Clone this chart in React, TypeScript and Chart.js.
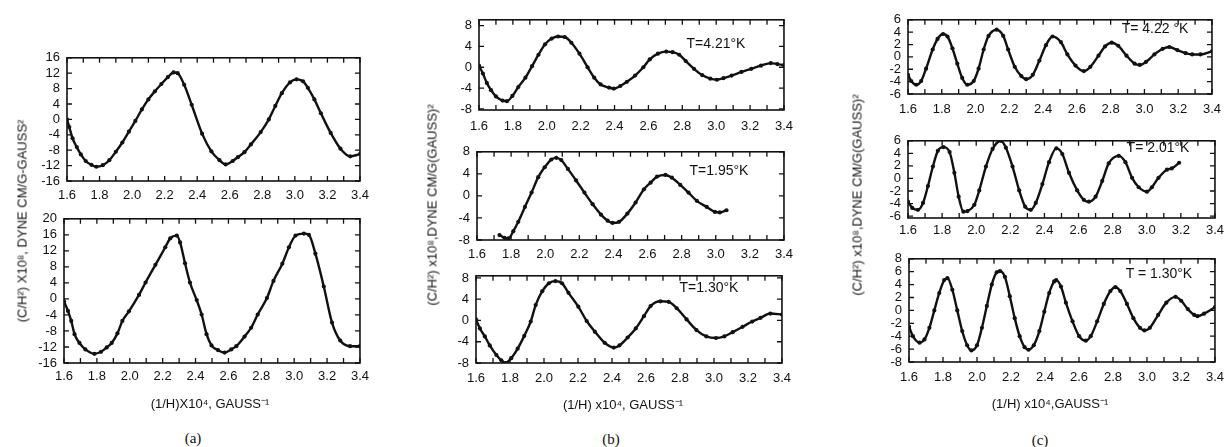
import React, { useEffect, useRef } from 'react';
import { Chart, registerables } from 'chart.js';

Chart.register(...registerables);

// ---------- tick values / labels ----------
const xTickValues = [1.6, 1.7, 1.8, 1.9, 2.0, 2.1, 2.2, 2.3, 2.4, 2.5, 2.6, 2.7, 2.8, 2.9, 3.0, 3.1, 3.2, 3.3, 3.4];
const xTickLabels = ['1.6', '', '1.8', '', '2.0', '', '2.2', '', '2.4', '', '2.6', '', '2.8', '', '3.0', '', '3.2', '', '3.4'];
const yTicksA1 = [16, 12, 8, 4, 0, -4, -8, -12, -16];
const yTicksA2 = [20, 16, 12, 8, 4, 0, -4, -8, -12, -16];
const yTicksB = [8, 4, 0, -4, -8];
const yTicksC6 = [6, 4, 2, 0, -2, -4, -6];
const yTicksC8 = [8, 6, 4, 2, 0, -2, -4, -6, -8];

// ---------- (a) upper ----------
const aTopX = [1.6, 1.614, 1.634, 1.66, 1.685, 1.715, 1.75, 1.78, 1.82, 1.86, 1.9, 1.94, 1.98, 2.02, 2.06, 2.1, 2.14, 2.18, 2.22, 2.255, 2.28, 2.32, 2.366, 2.43, 2.487, 2.537, 2.575, 2.618, 2.65, 2.69, 2.73, 2.79, 2.84, 2.88, 2.92, 2.97, 3.01, 3.05, 3.08, 3.12, 3.16, 3.22, 3.28, 3.34, 3.4];
const aTopY = [0, -2.0, -4.9, -7.2, -9.1, -10.8, -11.8, -12.3, -11.9, -10.6, -8.4, -6.0, -3.2, -0.4, 2.6, 5.2, 7.3, 9.2, 11.0, 12.2, 12.0, 9.0, 3.8, -3.7, -8.3, -10.6, -11.7, -10.8, -9.8, -8.5, -6.5, -3.3, 0, 3.5, 6.8, 9.6, 10.4, 9.9, 8.2, 5.2, 1.6, -3.5, -7.6, -9.6, -9.0];

// ---------- (a) lower ----------
const aBotX = [1.6, 1.624, 1.644, 1.664, 1.694, 1.73, 1.785, 1.825, 1.86, 1.89, 1.925, 1.955, 1.995, 2.056, 2.096, 2.156, 2.216, 2.246, 2.286, 2.306, 2.336, 2.366, 2.407, 2.437, 2.467, 2.497, 2.537, 2.577, 2.617, 2.648, 2.698, 2.738, 2.778, 2.834, 2.874, 2.928, 2.968, 3.008, 3.059, 3.089, 3.129, 3.18, 3.23, 3.28, 3.34, 3.4];
const aBotY = [-0.6, -3.0, -5.5, -8.8, -11.0, -12.6, -13.7, -13.2, -12.1, -11.0, -8.6, -5.5, -3.1, 1.0, 4.1, 8.5, 12.9, 15.1, 15.8, 14.1, 8.9, 4.1, -0.3, -3.9, -8.8, -11.6, -12.8, -13.4, -12.6, -11.8, -9.4, -7.2, -3.9, 0.2, 4.5, 8.8, 12.9, 15.8, 16.3, 16.0, 11.3, 3.1, -5.9, -10.4, -11.8, -11.8];

// ---------- (b) T=4.21 K ----------
const bTopX = [1.6, 1.623, 1.646, 1.671, 1.7, 1.739, 1.765, 1.797, 1.832, 1.874, 1.913, 1.951, 1.99, 2.029, 2.067, 2.106, 2.145, 2.193, 2.241, 2.28, 2.318, 2.367, 2.396, 2.434, 2.473, 2.521, 2.57, 2.608, 2.656, 2.705, 2.743, 2.782, 2.82, 2.869, 2.917, 2.965, 3.004, 3.043, 3.091, 3.149, 3.207, 3.264, 3.322, 3.361, 3.4];
const bTopY = [0.3, -1.2, -3.0, -4.4, -5.6, -6.4, -6.5, -5.5, -3.8, -2.0, 0.2, 2.4, 4.4, 5.5, 5.9, 5.8, 4.7, 2.6, 0, -2.0, -3.3, -3.9, -4.1, -3.6, -2.8, -1.6, 0, 1.5, 2.6, 3.0, 2.9, 2.4, 1.2, -0.3, -1.5, -2.2, -2.4, -2.1, -1.6, -0.9, -0.3, 0.3, 0.8, 0.6, 0.4];

// ---------- (b) T=1.95 K ----------
const bMidX = [1.732, 1.761, 1.784, 1.813, 1.842, 1.881, 1.92, 1.959, 1.997, 2.036, 2.065, 2.094, 2.133, 2.181, 2.23, 2.278, 2.327, 2.366, 2.395, 2.433, 2.482, 2.53, 2.579, 2.618, 2.656, 2.705, 2.743, 2.792, 2.84, 2.889, 2.947, 2.995, 3.024, 3.063];
const bMidY = [-7.1, -7.6, -7.7, -6.4, -4.7, -2.0, 0.6, 3.4, 5.2, 6.6, 6.9, 6.5, 4.9, 2.8, 0.6, -1.5, -3.4, -4.5, -4.9, -4.7, -3.2, -1.2, 1.2, 2.4, 3.5, 3.8, 3.3, 2.0, 0.6, -0.9, -2.0, -2.9, -3.0, -2.6];

// ---------- (b) T=1.30 K ----------
const bBotX = [1.6, 1.623, 1.652, 1.681, 1.72, 1.749, 1.774, 1.807, 1.845, 1.884, 1.922, 1.951, 1.99, 2.029, 2.067, 2.106, 2.144, 2.202, 2.251, 2.299, 2.357, 2.411, 2.444, 2.492, 2.54, 2.588, 2.627, 2.685, 2.733, 2.781, 2.839, 2.897, 2.955, 3.012, 3.061, 3.11, 3.168, 3.225, 3.274, 3.332, 3.4];
const bBotY = [0.2, -1.5, -3.0, -4.7, -6.5, -7.5, -8.0, -7.1, -5.3, -2.9, -0.2, 2.9, 5.5, 7.0, 7.4, 7.0, 5.2, 2.6, -0.1, -2.1, -4.2, -5.1, -4.7, -3.2, -1.5, 0.8, 2.7, 3.6, 3.5, 2.3, 0.2, -1.8, -3.0, -3.3, -3.0, -2.2, -1.2, -0.2, 0.5, 1.3, 1.1];

// ---------- (c) T=4.22 K ----------
const cTopX = [1.6, 1.619, 1.649, 1.678, 1.707, 1.746, 1.775, 1.808, 1.834, 1.863, 1.892, 1.921, 1.951, 1.989, 2.018, 2.048, 2.077, 2.125, 2.164, 2.193, 2.232, 2.271, 2.3, 2.339, 2.378, 2.417, 2.456, 2.505, 2.544, 2.592, 2.641, 2.68, 2.728, 2.767, 2.806, 2.845, 2.894, 2.942, 2.972, 3.01, 3.059, 3.108, 3.147, 3.195, 3.244, 3.283, 3.332, 3.4];
const cTopY = [-2.9, -3.9, -4.5, -3.9, -1.9, 1.2, 2.9, 3.7, 3.3, 1.4, -1.1, -3.4, -4.5, -3.9, -1.9, 1.2, 3.4, 4.4, 3.4, 1.2, -1.6, -3.1, -3.6, -2.9, -0.6, 1.9, 3.3, 2.4, 0.4, -1.4, -2.3, -1.6, 0.2, 1.7, 2.3, 1.8, 0.2, -1.1, -1.3, -0.8, 0.4, 1.3, 1.6, 1.1, 0.6, 0.4, 0.4, 0.9];

// ---------- (c) T=2.01 K ----------
const cMidX = [1.6, 1.625, 1.658, 1.688, 1.717, 1.746, 1.775, 1.808, 1.844, 1.872, 1.897, 1.925, 1.949, 1.989, 2.018, 2.057, 2.096, 2.145, 2.174, 2.213, 2.252, 2.287, 2.32, 2.349, 2.388, 2.427, 2.47, 2.505, 2.544, 2.592, 2.631, 2.661, 2.7, 2.739, 2.777, 2.836, 2.875, 2.914, 2.953, 3.001, 3.03, 3.069, 3.118, 3.147, 3.19];
const cMidY = [-3.7, -4.7, -5.0, -3.9, -1.2, 1.9, 4.4, 5.0, 4.2, 0.9, -2.9, -5.3, -5.2, -4.2, -1.9, 1.9, 4.7, 6.0, 4.9, 1.9, -1.9, -4.5, -5.0, -3.9, -0.9, 2.6, 4.8, 3.9, 0.9, -1.9, -3.4, -3.7, -2.9, -0.4, 2.4, 3.6, 2.6, 0.1, -1.4, -2.1, -1.4, 0.1, 1.4, 1.6, 2.5];

// ---------- (c) T=1.30 K ----------
const cBotX = [1.6, 1.623, 1.662, 1.691, 1.72, 1.749, 1.778, 1.807, 1.826, 1.855, 1.884, 1.913, 1.942, 1.967, 2.0, 2.029, 2.058, 2.087, 2.116, 2.135, 2.164, 2.193, 2.222, 2.251, 2.28, 2.303, 2.334, 2.367, 2.396, 2.425, 2.454, 2.466, 2.494, 2.523, 2.562, 2.601, 2.64, 2.669, 2.707, 2.746, 2.785, 2.814, 2.843, 2.882, 2.92, 2.959, 2.985, 3.017, 3.066, 3.114, 3.168, 3.201, 3.24, 3.278, 3.297, 3.336, 3.4];
const cBotY = [-2.5, -4.0, -5.0, -4.5, -2.7, 0, 2.7, 4.7, 5.0, 3.2, 0, -3.2, -5.4, -6.2, -5.4, -2.7, 0.7, 4.0, 5.9, 6.1, 5.2, 2.2, -1.2, -4.0, -5.7, -6.1, -5.4, -3.2, -0.2, 2.7, 4.5, 4.7, 3.7, 1.2, -1.7, -4.0, -4.7, -4.0, -1.7, 1.0, 3.0, 3.6, 3.0, 1.0, -1.2, -2.7, -3.1, -2.7, -0.7, 1.2, 2.1, 1.5, 0.2, -0.7, -0.9, -0.5, 0.5];

// ---------- layout (frame: left, top, right, bottom in page px) ----------
type Panel = {
  xs: number[]; ys: number[]; frame: [number, number, number, number];
  yMin: number; yMax: number; yTicks: number[]; xPad: number;
};

const panels: Panel[] = [
  { xs: aTopX, ys: aTopY, frame: [67, 53, 364, 181], yMin: -16, yMax: 16, yTicks: yTicksA1, xPad: 7 },
  { xs: aBotX, ys: aBotY, frame: [64, 214, 363, 363], yMin: -16, yMax: 20, yTicks: yTicksA2, xPad: 6 },
  { xs: bTopX, ys: bTopY, frame: [479, 15, 790, 110], yMin: -8.2, yMax: 9.1, yTicks: yTicksB, xPad: 9 },
  { xs: bMidX, ys: bMidY, frame: [477, 147, 788, 240], yMin: -8, yMax: 8, yTicks: yTicksB, xPad: 7 },
  { xs: bBotX, ys: bBotY, frame: [476, 271, 787, 363], yMin: -8, yMax: 8.4, yTicks: yTicksB, xPad: 8 },
  { xs: cTopX, ys: cTopY, frame: [908, 15, 1217, 94], yMin: -6, yMax: 6, yTicks: yTicksC6, xPad: 8 },
  { xs: cMidX, ys: cMidY, frame: [908, 136, 1217, 218], yMin: -6.3, yMax: 6, yTicks: yTicksC6, xPad: 5 },
  { xs: cBotX, ys: cBotY, frame: [909, 254, 1220, 362], yMin: -8, yMax: 8, yTicks: yTicksC8, xPad: 8 },
];

const YW = 44;
const PT = 10;
const PR = 12;
const XH = 30;
const INK = '#111111';
const FONT = "'Liberation Sans', Arial, sans-serif";

const framePlugin = {
  id: 'frameTicks',
  afterDraw(chart: any) {
    const { ctx, chartArea } = chart;
    const { left, right, top, bottom } = chartArea;
    const xs = chart.scales.x;
    const ys = chart.scales.y;
    ctx.save();
    ctx.strokeStyle = INK;
    ctx.lineWidth = 1.6;
    ctx.strokeRect(left, top, right - left, bottom - top);
    ctx.lineWidth = 1.3;
    ctx.beginPath();
    const tl = 5;
    xs.ticks.forEach((t: any) => {
      const px = xs.getPixelForValue(t.value);
      ctx.moveTo(px, bottom);
      ctx.lineTo(px, bottom - tl);
      ctx.moveTo(px, top);
      ctx.lineTo(px, top + tl);
    });
    ys.ticks.forEach((t: any) => {
      const py = ys.getPixelForValue(t.value);
      ctx.moveTo(left, py);
      ctx.lineTo(left + tl, py);
      ctx.moveTo(right, py);
      ctx.lineTo(right - tl, py);
    });
    ctx.stroke();
    ctx.restore();
  },
};

function Plot({ p }: { p: Panel }) {
  const ref = useRef<HTMLCanvasElement>(null);
  const [L, T, R, B] = p.frame;
  const w = R - L + YW + PR;
  const h = B - T + PT + XH;
  useEffect(() => {
    if (!ref.current) return;
    const chart = new Chart(ref.current, {
      type: 'line',
      data: {
        datasets: [
          {
            data: p.xs.map((x, i) => ({ x, y: p.ys[i] })),
            borderColor: INK,
            borderWidth: 2.4,
            pointRadius: 2.1,
            pointBackgroundColor: INK,
            pointBorderWidth: 0,
            cubicInterpolationMode: 'monotone',
            fill: false,
          } as any,
        ],
      },
      options: {
        animation: false,
        responsive: false,
        devicePixelRatio: 1,
        layout: { padding: { top: PT, right: PR, left: 0, bottom: 0 } },
        plugins: { legend: { display: false }, tooltip: { enabled: false } },
        scales: {
          x: {
            type: 'linear',
            min: 1.6,
            max: 3.4,
            grid: { display: false, drawTicks: false },
            border: { display: false },
            afterBuildTicks: (s: any) => {
              s.ticks = xTickValues.map((v) => ({ value: v }));
            },
            afterFit: (s: any) => {
              s.height = XH;
            },
            ticks: {
              autoSkip: false,
              maxRotation: 0,
              minRotation: 0,
              padding: p.xPad,
              color: INK,
              font: { family: FONT, size: 13 },
              callback: (v: any) => {
                const idx = xTickValues.findIndex((t) => Math.abs(t - Number(v)) < 1e-6);
                return idx >= 0 ? xTickLabels[idx] : '';
              },
            },
          },
          y: {
            type: 'linear',
            min: p.yMin,
            max: p.yMax,
            grid: { display: false, drawTicks: false },
            border: { display: false },
            afterBuildTicks: (s: any) => {
              s.ticks = p.yTicks.map((v) => ({ value: v }));
            },
            afterFit: (s: any) => {
              s.width = YW;
            },
            ticks: {
              autoSkip: false,
              padding: 7,
              color: INK,
              font: { family: FONT, size: 13 },
              callback: (v: any) => String(v),
            },
          },
        },
      } as any,
      plugins: [framePlugin],
    });
    return () => chart.destroy();
  }, []);
  return (
    <canvas
      ref={ref}
      width={w}
      height={h}
      style={{ position: 'absolute', left: L - YW, top: T - PT, width: w, height: h }}
    />
  );
}

type Label = { text: string; x: number; y: number; size: number; rotate?: boolean; serif?: boolean };

const labels: Label[] = [
  { text: 'T=4.21°K', x: 716, y: 43, size: 14 },
  { text: 'T=1.95°K', x: 719, y: 170, size: 14 },
  { text: 'T=1.30°K', x: 709, y: 287, size: 14 },
  { text: 'T= 4.22 °K', x: 1155, y: 28, size: 14 },
  { text: 'T= 2.01°K', x: 1158, y: 147, size: 14 },
  { text: 'T = 1.30°K', x: 1159, y: 273, size: 14 },
  { text: '(C/H²) X10⁸, DYNE CM/G-GAUSS²', x: 22, y: 221, size: 13 },
  { text: '(C/H²) x10⁸,DYNE CM/G(GAUSS)²', x: 432, y: 205, size: 13 },
  { text: '(C/H²) x10⁸,DYNE CM/G(GAUSS)²', x: 857, y: 195, size: 13 },
  { text: '(1/H)X10⁴, GAUSS⁻¹', x: 210, y: 403, size: 13 },
  { text: '(1/H) x10⁴, GAUSS⁻¹', x: 623, y: 404, size: 13 },
  { text: '(1/H) x10⁴,GAUSS⁻¹', x: 1050, y: 403, size: 13 },
  { text: '(a)', x: 193, y: 438, size: 15, serif: true },
  { text: '(b)', x: 611, y: 439, size: 15, serif: true },
  { text: '(c)', x: 1040, y: 440, size: 15, serif: true },
].map((l, i) => (i >= 6 && i <= 8 ? { ...l, rotate: true } : l));

export default function App() {
  return (
    <div
      style={{
        position: 'absolute',
        left: 0,
        top: 0,
        width: 1229,
        height: 447,
        background: '#ffffff',
        overflow: 'hidden',
      }}
    >
      {panels.map((p, i) => (
        <Plot key={i} p={p} />
      ))}
      {labels.map((l, i) => (
        <div
          key={'l' + i}
          style={{
            position: 'absolute',
            left: l.x,
            top: l.y,
            transform: `translate(-50%, -50%)${l.rotate ? ' rotate(-90deg)' : ''}`,
            whiteSpace: 'nowrap',
            fontFamily: l.serif ? "'Liberation Serif', 'DejaVu Serif', serif" : FONT,
            fontSize: l.size,
            color: INK,
            lineHeight: 1,
          }}
        >
          {l.text}
        </div>
      ))}
    </div>
  );
}
